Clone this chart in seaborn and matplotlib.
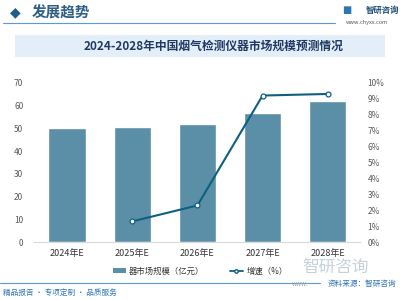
import matplotlib
matplotlib.use("Agg")
import matplotlib.pyplot as plt
from matplotlib.patches import Rectangle, Patch
from matplotlib.lines import Line2D
import numpy as np
import pandas as pd
import seaborn as sns

years = ["2024年E", "2025年E", "2026年E", "2027年E", "2028年E"]
market_size = [50.0, 50.7, 51.8, 56.6, 61.9]
growth = [np.nan, 1.3, 2.3, 9.2, 9.3]

title = "2024-2028年中国烟气检测仪器市场规模预测情况"
bar_label = "器市场规模（亿元）"
line_label = "增速（%）"

BAR_COLOR = "#5b8fa8"
LINE_COLOR = "#0e5f80"

sns.set_theme(style="white")
plt.rcParams["font.family"] = ["Noto Sans CJK SC", "DejaVu Sans"]

df = pd.DataFrame({"year": years, "size": market_size, "growth": growth})

fig = plt.figure(figsize=(4, 3), dpi=100)
fig.patch.set_facecolor("white")

# header
fig.text(0.038, 0.958, "◆", fontsize=10, color="#1f5f8a", ha="center", va="center",
		 family=["DejaVu Sans"])
fig.text(0.08, 0.958, "发展趋势", fontsize=10.5, color="#2f5f86", ha="left", va="center",
		 fontweight="bold")
fig.add_artist(Line2D([0.008, 0.838], [0.923, 0.923], color="#5b9bd5", lw=0.8))
fig.text(0.915, 0.965, "智研咨询", fontsize=6, color="#1f4e79", ha="left", va="center",
		 fontweight="bold")
fig.text(0.855, 0.965, "■", fontsize=7, color="#2e75b6", ha="left", va="center",
		 family=["DejaVu Sans"])
fig.text(0.97, 0.925, "www.chyxx.com", fontsize=4, color="#595959", ha="right", va="center")

# title box
fig.add_artist(Rectangle((0.038, 0.81), 0.925, 0.073, transform=fig.transFigure,
						 facecolor="#e3eef8", edgecolor="none"))
fig.text(0.535, 0.847, title, fontsize=8.5, color="#1f3864", ha="center", va="center",
		 fontweight="bold")

ax = fig.add_axes([0.086, 0.193, 0.815, 0.531])
sns.barplot(data=df, x="year", y="size", color=BAR_COLOR, width=0.57, saturation=1,
			ax=ax, zorder=2)
ax.set_ylim(0, 70)
ax.set_yticks(range(0, 71, 10))
ax.set_xlabel("")
ax.set_ylabel("")
ax.tick_params(axis="y", labelsize=6, colors="#595959", length=0, pad=8)
ax.tick_params(axis="x", labelsize=6.5, colors="#333333", length=0, pad=5)
for s in ["top", "right", "left"]:
	ax.spines[s].set_visible(False)
ax.spines["bottom"].set_color("#d9d9d9")
ax.spines["bottom"].set_linewidth(0.8)

ax2 = ax.twinx()
sns.lineplot(x=df.index, y=df["growth"], color=LINE_COLOR, lw=1.5, marker="o",
			 markersize=3.5, markerfacecolor="white", markeredgecolor=LINE_COLOR,
			 markeredgewidth=0.9, ax=ax2, zorder=3)
ax2.set_ylim(0, 10)
ax2.set_yticks(range(0, 11))
ax2.set_yticklabels([f"{v}%" for v in range(0, 11)])
ax2.set_ylabel("")
ax2.tick_params(axis="y", labelsize=6, colors="#595959", length=0, pad=5)
for s in ["top", "right", "left", "bottom"]:
	ax2.spines[s].set_visible(False)
ax.set_xlim(-0.5, len(years) - 0.5)

handles = [
	Patch(facecolor=BAR_COLOR, edgecolor="none", label=bar_label),
	Line2D([0], [0], color=LINE_COLOR, lw=1.3, marker="o", markersize=2.5,
		   markerfacecolor="white", markeredgecolor=LINE_COLOR, label=line_label),
]
fig.legend(handles=handles, loc="center", bbox_to_anchor=(0.5, 0.097), ncol=2,
		   frameon=False, fontsize=6, handlelength=1.6, handleheight=0.5,
		   handletextpad=0.4, columnspacing=3.0, labelcolor="#333333")

# watermark logo near legend
fig.text(0.755, 0.108, "智研咨询", fontsize=12, color="#c5d2dc", ha="left", va="center")

# footer
fig.add_artist(Line2D([0.0, 0.8], [0.057, 0.057], color="#5b9bd5", lw=0.8))
fig.text(0.73, 0.052, "www.", fontsize=4.5, color="#a6a6a6", ha="left", va="center")
fig.text(0.99, 0.052, "资料来源：智研咨询", fontsize=5.5, color="#2e75b6", ha="right",
		 va="center")
fig.text(0.008, 0.025, "精品报告 · 专项定制 · 品质服务", fontsize=5.5, color="#2e75b6",
		 ha="left", va="center")

fig.savefig("out.png", dpi=100)
